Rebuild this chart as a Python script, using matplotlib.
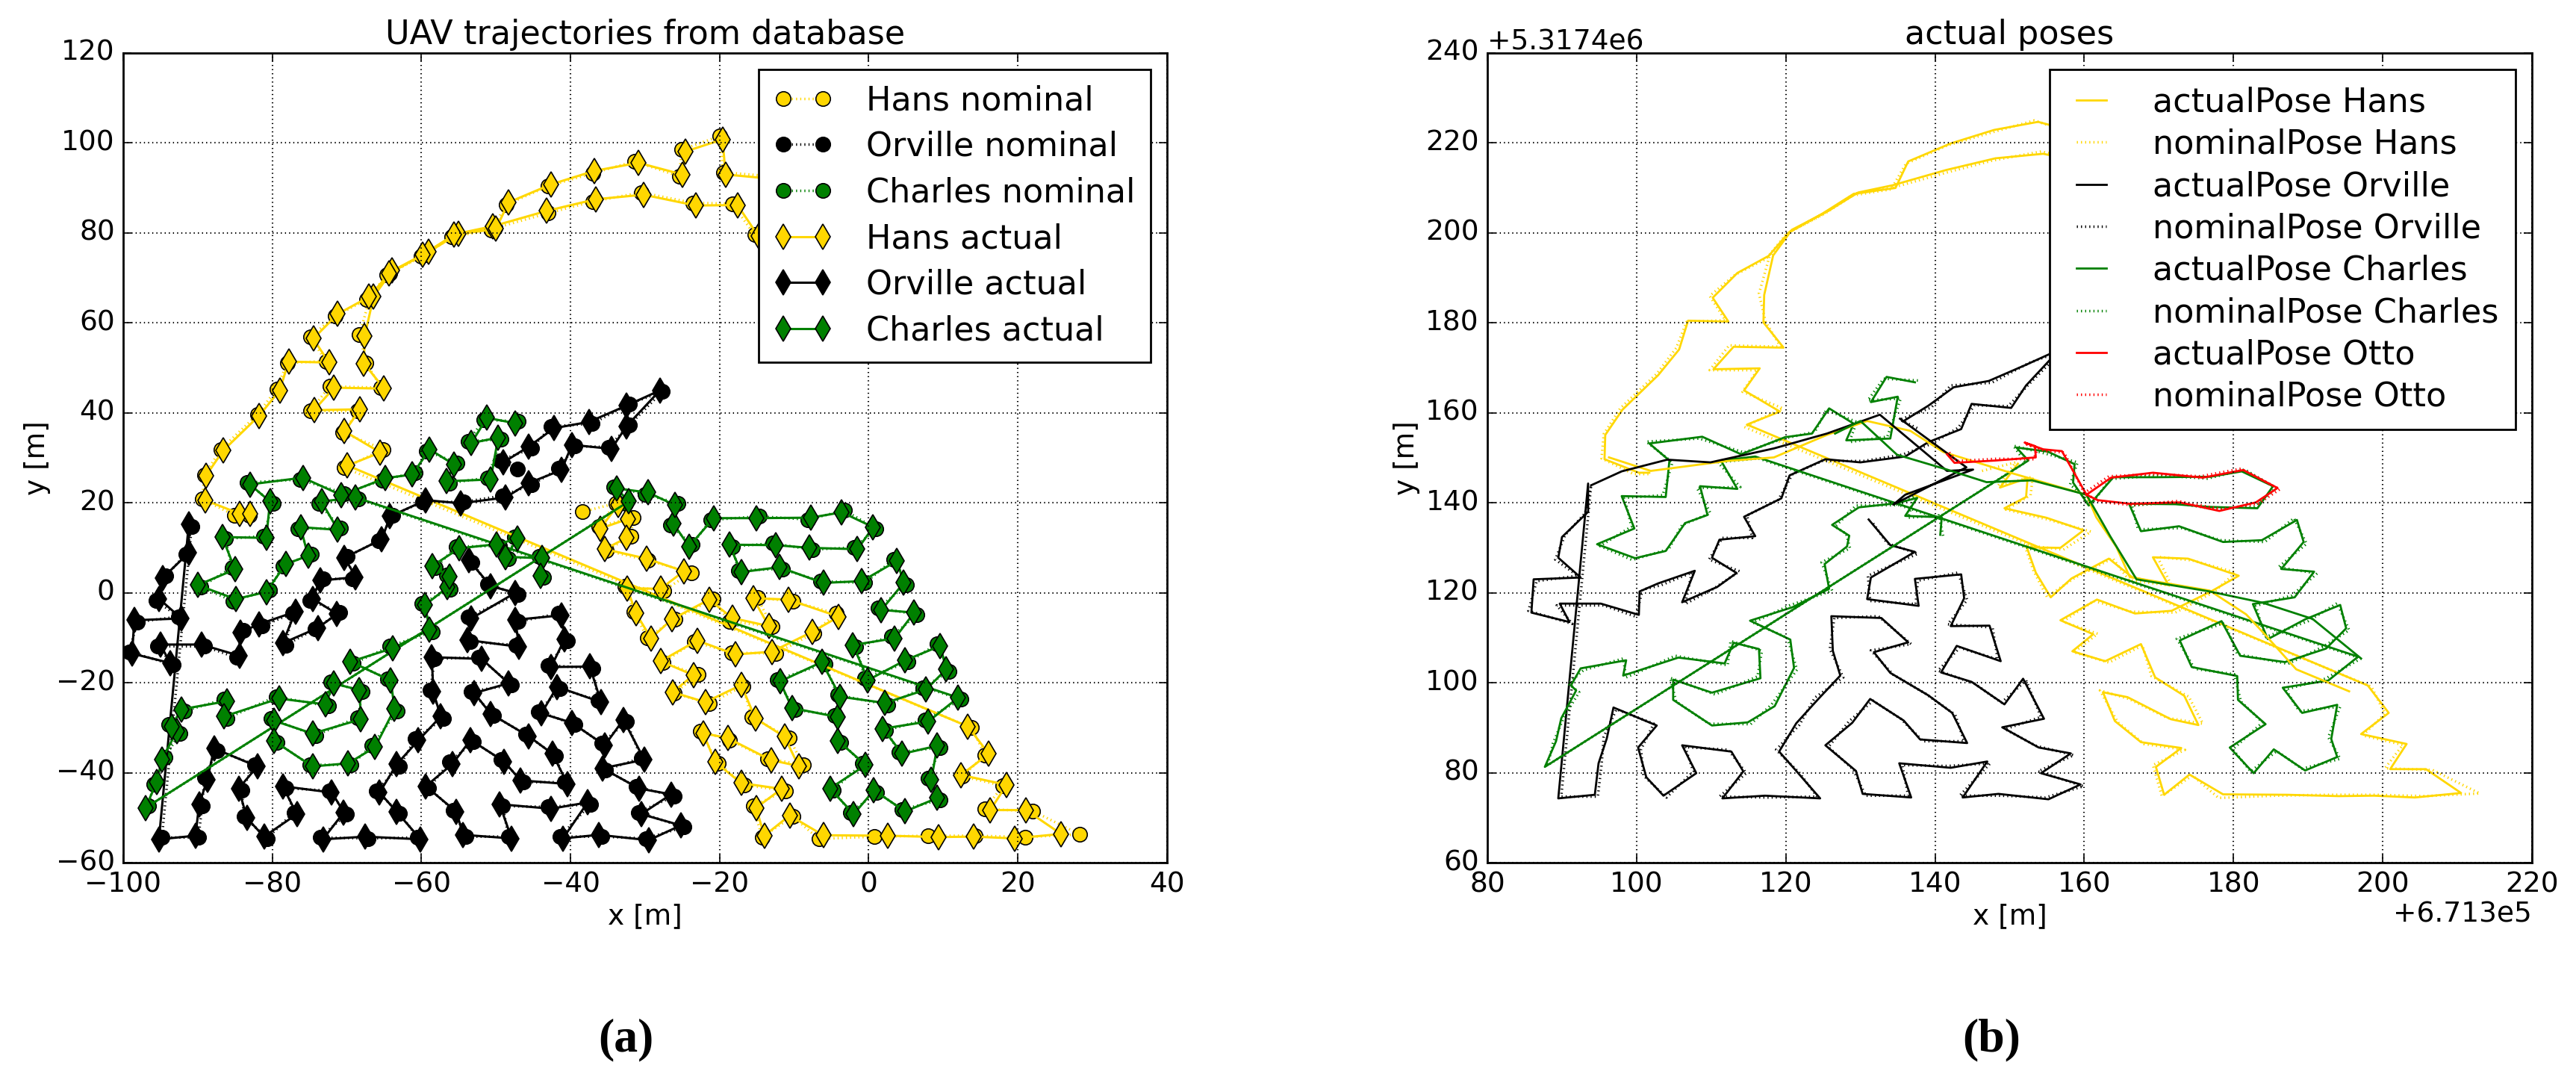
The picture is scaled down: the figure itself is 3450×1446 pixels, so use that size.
import numpy as np
import matplotlib
matplotlib.use("Agg")
import matplotlib.pyplot as plt
from matplotlib.ticker import ScalarFormatter

# ---- left panel: local coordinates [m] ----
hans_nominal = [
    (-38.4, 18.0), (-33.9, 19.9), (-36.2, 14.8), (-31.6, 16.7), (-31.9, 12.6), (-35.2, 9.4), (-29.6, 7.2),
    (-23.8, 4.5), (-27.5, 0.5), (-32.7, 1.5), (-31.5, -4.2), (-29.7, -10.0), (-26.0, -5.8), (-20.9, -1.4),
    (-18.7, -6.3), (-13.0, -7.5), (-14.9, -1.1), (-10.2, -1.9), (-4.4, -4.6), (-7.4, -9.0), (-12.5, -13.5),
    (-18.4, -13.3), (-23.4, -10.9), (-27.6, -15.5), (-22.9, -18.2), (-26.1, -22.3), (-21.4, -24.6),
    (-16.9, -20.8), (-15.7, -27.6), (-10.7, -32.2), (-8.8, -38.2), (-13.6, -36.9), (-18.7, -32.7),
    (-22.6, -30.8), (-20.2, -37.9), (-16.7, -42.7), (-11.2, -44.0), (-15.5, -47.4), (-14.3, -54.3),
    (-10.2, -49.7), (-6.7, -54.7), (0.8, -54.2), (8.0, -54.0), (14.3, -54.0), (21.0, -54.3), (28.3, -53.7),
    (22.0, -48.5), (15.6, -48.1), (18.0, -42.9), (12.6, -40.8), (15.6, -36.0), (13.8, -30.0),
    (-70.3, 27.8), (-65.1, 31.9), (-70.5, 35.6), (-68.5, 40.4), (-74.9, 40.4), (-72.3, 45.9), (-65.4, 45.6),
    (-67.4, 51.1), (-68.3, 57.4), (-66.9, 65.6), (-64.2, 71.1), (-59.5, 75.2), (-55.4, 79.6), (-50.1, 81.1),
    (-43.0, 84.4), (-37.0, 87.0), (-30.5, 89.0), (-23.6, 86.7), (-18.3, 86.5), (-15.3, 79.6), (-8.0, 76.0),
    (-9.0, 92.0), (-19.5, 93.5), (-20.0, 101.5), (-25.1, 98.5), (-25.4, 92.6), (-31.4, 95.9), (-37.0, 93.3),
    (-43.0, 90.4), (-48.6, 86.3), (-50.6, 80.6), (-55.9, 79.2), (-60.0, 74.8), (-64.6, 70.7), (-67.3, 65.2),
    (-71.5, 61.6), (-74.9, 56.9), (-72.8, 51.5), (-78.0, 51.1), (-79.4, 45.3), (-82.0, 39.6), (-86.9, 31.9),
    (-89.1, 26.2), (-89.4, 20.8), (-85.1, 17.3), (-83.1, 17.3),
]
hans_actual = [
    (-33.6, 19.6), (-36.0, 14.3), (-32.3, 16.4), (-32.5, 12.2), (-35.4, 9.7), (-29.8, 7.6),
    (-24.8, 4.8), (-27.9, 0.9), (-32.4, 1.0), (-31.2, -4.6), (-29.2, -10.1), (-26.4, -5.9), (-21.4, -1.5),
    (-18.3, -5.6), (-13.4, -7.4), (-15.5, -1.2), (-10.8, -1.5), (-4.0, -5.3), (-7.6, -8.7), (-13.0, -13.1),
    (-17.9, -13.7), (-23.0, -10.6), (-27.9, -15.2), (-23.5, -18.3), (-26.3, -22.1), (-21.9, -24.3),
    (-17.1, -20.5), (-15.2, -27.9), (-11.3, -32.0), (-9.4, -38.5), (-13.1, -37.2), (-18.9, -32.3),
    (-22.2, -31.2), (-20.6, -37.6), (-17.1, -42.3), (-11.7, -43.6), (-15.1, -47.8), (-14.0, -54.0),
    (-10.6, -49.5), (-6.1, -53.9), (2.6, -54.0), (9.4, -54.3), (14.1, -54.2), (19.6, -54.6), (25.8, -53.6),
    (21.1, -48.3), (16.3, -48.3), (18.5, -42.7), (12.4, -40.5), (16.1, -35.8), (13.3, -29.7),
    (-69.9, 28.3), (-65.5, 31.2), (-70.3, 35.9), (-68.2, 40.8), (-74.4, 40.6), (-71.7, 45.6), (-65.0, 45.4),
    (-67.7, 51.0), (-67.6, 57.1), (-66.4, 65.9), (-63.9, 71.6), (-59.0, 75.8), (-55.0, 79.9), (-50.4, 81.5),
    (-43.2, 84.9), (-36.6, 87.5), (-30.2, 88.5), (-23.2, 86.1), (-17.6, 86.2), (-14.8, 79.3), (-8.5, 76.0),
    (-9.5, 91.5), (-19.2, 93.0), (-19.6, 100.8), (-24.6, 98.1), (-25.0, 93.0), (-30.9, 95.6), (-36.8, 93.8),
    (-42.6, 90.8), (-48.3, 86.8), (-50.0, 80.9), (-55.6, 79.6), (-59.8, 75.2), (-64.3, 71.0), (-67.0, 65.8),
    (-71.2, 62.0), (-74.5, 56.5), (-72.4, 51.2), (-77.8, 51.4), (-79.0, 45.0), (-81.8, 39.3), (-86.6, 31.6),
    (-88.9, 26.0), (-89.0, 20.6), (-84.4, 17.6), (-83.0, 17.6),
]

orville_nominal = [
    (-47.1, 27.5), (-49.4, 29.4), (-45.2, 32.1), (-42.6, 37.0), (-37.1, 37.6), (-32.1, 42.0), (-27.7, 44.7),
    (-32.1, 37.3), (-34.9, 32.4), (-39.4, 32.6), (-41.6, 27.6), (-45.2, 24.0), (-49.1, 21.6), (-54.3, 20.2),
    (-59.8, 20.2), (-63.8, 17.3), (-65.7, 11.6), (-69.9, 8.1), (-69.2, 3.1), (-73.2, 3.1), (-75.0, -1.7),
    (-70.9, -4.3), (-74.3, -8.1), (-78.2, -11.6), (-77.3, -4.6), (-81.4, -7.4), (-83.9, -8.4), (-84.8, -14.4),
    (-89.1, -11.9), (-95.4, -11.9), (-93.3, -16.0), (-99.2, -13.1), (-98.1, -6.5), (-92.6, -5.3),
    (-95.6, -1.7), (-94.3, 3.7), (-91.6, 8.6), (-90.8, 14.8),
    (-94.8, -54.4), (-89.9, -54.4), (-89.4, -47.4), (-89.1, -41.1), (-87.4, -35.0), (-82.4, -38.2),
    (-84.1, -43.9), (-83.8, -49.7), (-80.7, -54.6), (-77.1, -48.8), (-78.2, -43.4), (-72.4, -44.0),
    (-70.0, -49.2), (-73.6, -54.4), (-67.1, -54.6), (-60.5, -54.4), (-62.9, -49.1), (-66.0, -44.0),
    (-62.9, -38.5), (-60.8, -32.4), (-57.0, -27.9), (-58.8, -21.6), (-58.2, -14.7), (-52.3, -14.3),
    (-47.9, -20.5), (-53.3, -21.9), (-50.3, -27.3), (-46.0, -31.5), (-42.0, -36.2), (-40.8, -42.1),
    (-46.3, -42.1), (-49.3, -37.1), (-53.0, -33.1), (-56.2, -37.6), (-59.0, -43.4), (-55.7, -48.3),
    (-54.0, -54.2), (-48.3, -54.2), (-49.1, -47.4), (-43.0, -47.6), (-37.3, -47.0), (-41.4, -54.2),
    (-35.8, -54.2), (-29.9, -54.6), (-24.8, -52.1), (-30.9, -48.8), (-26.1, -45.2), (-31.2, -43.1),
    (-35.3, -39.4), (-30.5, -36.7), (-32.5, -28.6), (-35.8, -33.5), (-39.4, -29.3), (-44.3, -26.4),
    (-41.4, -21.3), (-36.3, -23.9), (-37.0, -16.8), (-43.0, -16.1), (-40.4, -10.7), (-41.6, -4.6),
    (-47.0, -6.4), (-47.3, -11.6), (-53.4, -10.9), (-53.7, -5.3), (-47.0, -0.4), (-51.1, 1.9), (-53.2, 6.8),
]
orville_actual = [
    (-49.0, 29.0), (-45.6, 32.5), (-42.2, 36.6), (-37.5, 38.0), (-32.5, 41.6), (-28.0, 45.0),
    (-32.5, 37.0), (-34.5, 32.0), (-39.8, 32.9), (-41.2, 27.3), (-45.6, 24.4), (-48.7, 21.2), (-54.7, 19.9),
    (-59.4, 20.6), (-64.2, 17.0), (-65.3, 11.9), (-70.3, 7.8), (-68.8, 3.5), (-73.6, 2.7), (-74.6, -1.3),
    (-71.3, -4.7), (-73.9, -7.8), (-78.6, -11.2), (-76.9, -4.2), (-81.8, -7.0), (-84.3, -8.8), (-84.4, -14.0),
    (-89.5, -11.5), (-95.0, -11.5), (-93.7, -15.6), (-98.8, -13.5), (-98.5, -6.1), (-92.2, -5.7),
    (-95.2, -1.3), (-94.7, 3.3), (-91.2, 8.9), (-91.2, 15.2),
    (-95.2, -54.8), (-90.3, -54.0), (-89.8, -47.0), (-88.7, -41.5), (-87.8, -34.6), (-82.0, -38.6),
    (-84.5, -43.5), (-83.4, -50.1), (-81.1, -54.2), (-76.7, -49.2), (-78.6, -43.0), (-72.0, -44.4),
    (-70.4, -48.8), (-73.2, -54.8), (-67.5, -54.2), (-60.1, -54.8), (-63.3, -48.7), (-65.6, -44.4),
    (-63.3, -38.1), (-60.4, -32.8), (-57.4, -27.5), (-58.4, -22.0), (-58.6, -14.3), (-51.9, -14.7),
    (-48.3, -20.1), (-52.9, -22.3), (-50.7, -26.9), (-45.6, -31.9), (-42.4, -35.8), (-40.4, -42.5),
    (-46.7, -41.7), (-48.9, -37.5), (-53.4, -32.7), (-55.8, -38.0), (-59.4, -43.0), (-55.3, -48.7),
    (-54.4, -53.8), (-47.9, -54.6), (-49.5, -47.0), (-42.6, -48.0), (-37.7, -46.6), (-41.0, -54.6),
    (-36.2, -53.8), (-29.5, -55.0), (-25.2, -51.7), (-30.5, -49.2), (-26.5, -44.8), (-30.8, -43.5),
    (-35.7, -39.0), (-30.1, -37.1), (-32.9, -28.2), (-35.4, -33.9), (-39.8, -28.9), (-43.9, -26.8),
    (-41.8, -20.9), (-35.9, -24.3), (-37.4, -16.4), (-42.6, -16.5), (-40.8, -10.3), (-41.2, -5.0),
    (-47.4, -6.0), (-46.9, -12.0), (-53.8, -10.5), (-53.3, -5.7), (-47.4, 0.0), (-50.7, 1.5), (-53.6, 7.2),
]

charles_nominal = [
    (-47.0, 38.1), (-51.6, 38.5), (-53.7, 33.7), (-49.3, 34.1), (-51.1, 25.6), (-56.2, 24.4), (-55.2, 28.9),
    (-59.3, 31.5), (-60.8, 26.7), (-65.2, 25.1), (-70.3, 22.1), (-76.3, 25.2), (-83.4, 24.5), (-79.9, 19.9),
    (-81.2, 12.6), (-86.3, 12.0), (-85.4, 5.6), (-89.6, 1.3), (-85.3, -1.8), (-80.4, 0.6), (-78.6, 6.0),
    (-74.8, 8.6), (-76.6, 14.2), (-70.8, 14.4), (-73.8, 19.9), (-68.4, 20.8),
    (12.4, -23.7), (7.6, -28.2), (2.3, -30.6), (4.1, -35.4), (9.6, -34.4), (8.0, -41.2), (9.6, -46.0),
    (4.5, -48.2), (1.1, -44.3), (-2.4, -48.8), (-4.8, -43.9), (-0.8, -37.9), (-3.7, -33.3), (-4.6, -27.2),
    (-9.9, -26.0), (-12.3, -19.3), (-5.9, -15.8), (-4.2, -22.7), (2.6, -24.9), (7.3, -21.1), (10.8, -17.4),
    (9.2, -11.4), (5.3, -15.4), (-0.5, -19.0), (-1.7, -12.0), (3.1, -9.7), (6.5, -4.8), (1.3, -3.4),
    (5.1, 1.8), (3.4, 7.5), (-0.5, 2.2), (-6.5, 2.6), (-11.6, 5.3), (-17.5, 5.0), (-18.3, 10.3),
    (-12.9, 11.0), (-7.6, 9.6), (-1.9, 10.1), (1.0, 14.2), (-3.2, 18.3), (-8.2, 16.3), (-14.7, 17.0),
    (-21.2, 16.2), (-23.7, 10.7), (-26.6, 15.0), (-25.6, 19.9), (-30.0, 21.9), (-34.2, 23.6), (-32.6, 19.9),
    (-96.6, -47.4), (-95.9, -42.5), (-94.4, -36.6), (-92.4, -31.2), (-93.9, -29.3), (-91.8, -26.3),
    (-86.5, -23.7), (-86.1, -27.9), (-79.5, -23.1), (-72.5, -25.2), (-72.1, -19.8), (-67.9, -22.0),
    (-68.5, -27.7), (-74.2, -31.7), (-80.2, -28.0), (-79.4, -33.3), (-75.0, -38.2), (-69.4, -38.3),
    (-66.6, -33.9), (-63.2, -26.2), (-64.5, -19.1), (-69.1, -15.7), (-64.2, -11.9), (-58.5, -8.6),
    (-59.9, -2.3), (-56.1, 0.8), (-56.6, 4.0), (-58.1, 5.6), (-55.3, 10.3), (-49.5, 10.4), (-47.5, 12.4),
    (-48.3, 7.6), (-44.2, 8.1), (-43.6, 3.4),
]
charles_actual = [
    (-47.4, 37.7), (-51.2, 38.9), (-53.3, 33.3), (-49.7, 34.5), (-50.7, 25.2), (-56.6, 24.8), (-55.6, 28.5),
    (-58.9, 31.9), (-61.2, 26.3), (-64.8, 25.5), (-70.7, 21.7), (-75.9, 25.6), (-83.0, 24.1), (-80.3, 20.3),
    (-80.8, 12.2), (-86.7, 12.4), (-85.0, 5.2), (-90.0, 1.7), (-84.9, -1.4), (-80.8, 0.2), (-78.2, 6.4),
    (-75.2, 8.2), (-76.2, 14.6), (-71.2, 14.0), (-73.4, 20.3), (-68.8, 21.2),
    (12.0, -23.3), (8.0, -28.6), (1.9, -30.2), (4.5, -35.8), (9.2, -34.0), (8.4, -41.6), (9.2, -45.6),
    (4.9, -48.6), (0.7, -43.9), (-2.0, -49.2), (-5.2, -43.5), (-0.4, -38.3), (-4.1, -32.9), (-4.2, -27.6),
    (-10.3, -25.6), (-11.9, -19.7), (-6.3, -15.4), (-3.8, -23.1), (2.2, -24.5), (7.7, -21.5), (10.4, -17.0),
    (9.6, -11.8), (4.9, -15.0), (-0.1, -19.4), (-2.1, -11.6), (3.5, -10.1), (6.1, -4.4), (1.7, -3.8),
    (4.7, 2.2), (3.8, 7.1), (-0.9, 2.6), (-6.1, 2.2), (-12.0, 5.7), (-17.1, 4.6), (-18.7, 10.7),
    (-12.5, 10.6), (-8.0, 10.0), (-1.5, 9.7), (0.6, 14.6), (-3.6, 17.9), (-7.8, 16.7), (-15.1, 16.6),
    (-20.8, 16.6), (-24.1, 10.3), (-26.2, 15.4), (-26.0, 19.5), (-29.6, 22.3), (-33.8, 23.2), (-32.2, 20.3),
    (-97.0, -47.8), (-95.5, -42.1), (-94.8, -37.0), (-92.8, -30.8), (-93.5, -29.7), (-92.2, -25.9),
    (-86.1, -24.1), (-86.5, -27.5), (-79.1, -23.5), (-72.9, -24.8), (-71.7, -20.2), (-68.3, -21.6),
    (-68.1, -28.1), (-74.6, -31.3), (-79.8, -28.4), (-79.8, -32.9), (-74.6, -38.6), (-69.8, -37.9),
    (-66.2, -34.3), (-63.6, -25.8), (-64.1, -19.5), (-69.5, -15.3), (-63.8, -12.3), (-58.9, -8.2),
    (-59.5, -2.7), (-56.5, 1.2), (-56.2, 3.6), (-58.5, 6.0), (-54.9, 9.9), (-49.9, 10.8), (-47.1, 12.0),
    (-48.7, 8.0), (-43.8, 7.7), (-44.0, 3.8),
]

# ---- right panel: extra paths, axis units (offset +6.713e5 / +5.3174e6) ----
x_base = 671300.0
y_base = 5317400.0
local_origin = (184.7, 129.1)   # local frame origin in the right panel's axis units

hans_transit = [(96.3, 150.1), (101.9, 147.1), (112.1, 149.3), (118.4, 150.1), (125.5, 155.1),
                (130.9, 158.2), (136.7, 156.0), (141.1, 151.3), (150.5, 146.5), (160.3, 141.8),
                (161.6, 136.8), (164.3, 130.2), (166.1, 123.5), (176.8, 120.5), (181.7, 115.2),
                (183.9, 111.3), (188.4, 103.0), (195.5, 98.1)]
orville_transit = [(93.9, 143.9), (98.0, 147.0), (104.1, 149.6), (109.9, 149.0), (118.4, 152.1),
                   (125.5, 155.4), (132.6, 159.6), (141.6, 147.1), (145.1, 147.4), (136.0, 141.8),
                   (134.4, 139.6), (144.2, 147.9), (135.3, 158.7)]
charles_transit = [(126.6, 155.4), (130.0, 158.2), (134.9, 150.7), (141.6, 147.4), (146.9, 144.6),
                   (153.0, 145.0), (160.3, 141.8), (163.5, 132.5), (167.0, 123.0), (176.8, 120.3),
                   (183.9, 117.8), (190.6, 114.2), (197.1, 105.4)]
otto_actual = [(141.6, 150.8), (142.6, 148.9), (148.0, 149.4), (153.5, 150.1), (153.4, 152.6),
               (152.0, 153.4), (154.5, 151.9), (157.0, 151.5), (160.3, 141.8), (161.8, 140.6),
               (166.1, 139.8), (172.8, 140.1), (178.1, 138.2), (183.0, 140.1), (185.9, 143.3),
               (181.3, 147.3), (175.9, 145.6), (169.2, 146.7), (163.6, 145.6), (160.3, 141.8)]
otto_nominal = [(141.9, 151.2), (142.9, 149.3), (148.3, 149.8), (153.2, 149.7), (153.8, 152.2),
                (152.3, 153.0), (154.8, 151.5), (157.3, 151.2), (160.0, 142.2), (162.1, 140.2),
                (166.4, 139.5), (172.5, 140.4), (178.4, 138.6), (183.3, 139.8), (186.2, 143.0),
                (181.0, 147.6), (175.6, 145.9), (169.5, 146.4), (163.3, 145.9), (160.0, 142.2)]

GOLD = "#ffd700"
GREEN = "#008000"

plt.style.use("classic")
plt.rcParams["figure.facecolor"] = "white"
plt.rcParams["savefig.facecolor"] = "white"
plt.rcParams["xtick.labelsize"] = 27
plt.rcParams["ytick.labelsize"] = 27
plt.rcParams["axes.labelsize"] = 27
plt.rcParams["axes.titlesize"] = 32
plt.rcParams["legend.fontsize"] = 32

fig = plt.figure(figsize=(34.5, 14.46), dpi=100)
ax1 = fig.add_axes([0.0478, 0.2012, 0.4052, 0.7497])
ax2 = fig.add_axes([0.5774, 0.2012, 0.4055, 0.7497])


def xy(points):
    a = np.array(points)
    return a[:, 0], a[:, 1]


# (a) database trajectories
ms = 14
for pts, col, lab in [(hans_nominal, GOLD, "Hans nominal"),
                      (orville_nominal, "k", "Orville nominal"),
                      (charles_nominal, GREEN, "Charles nominal")]:
    x, y = xy(pts)
    ax1.plot(x, y, ":", color=col, lw=2.5, marker="o", ms=ms, mfc=col, mec="k", mew=1.2, label=lab)
for pts, col, lab in [(hans_actual, GOLD, "Hans actual"),
                      (orville_actual, "k", "Orville actual"),
                      (charles_actual, GREEN, "Charles actual")]:
    x, y = xy(pts)
    ax1.plot(x, y, "-", color=col, lw=2.2, marker="d", ms=ms + 3, mfc=col, mec="k", mew=1.2, label=lab)

ax1.set_xlim(-100, 40)
ax1.set_ylim(-60, 120)
ax1.set_xticks(np.arange(-100, 41, 20))
ax1.set_yticks(np.arange(-60, 121, 20))
ax1.grid(True, color="k", linestyle=":", linewidth=1.5)
ax1.set_xlabel("x [m]")
ax1.set_ylabel("y [m]")
ax1.set_title("UAV trajectories from database", y=1.005)
leg1 = ax1.legend(loc="upper right", numpoints=2, borderaxespad=0.5, labelspacing=0.42,
                  handlelength=1.8, handletextpad=1.0, borderpad=0.45)
leg1.get_frame().set_linewidth(2)

# (b) actual poses in UTM
ox, oy = local_origin
for act, nom, col, name in [(hans_actual, hans_nominal, GOLD, "Hans"),
                            (orville_actual, orville_nominal, "k", "Orville"),
                            (charles_actual, charles_nominal, GREEN, "Charles")]:
    xa, ya = xy(act)
    xn, yn = xy(nom)
    ax2.plot(xa + ox + x_base, ya + oy + y_base, "-", color=col, lw=2.0, label="actualPose " + name)
    ax2.plot(xn + ox + x_base, yn + oy + y_base, ":", color=col, lw=2.5, label="nominalPose " + name)
for tr, col in [(hans_transit, GOLD), (orville_transit, "k"), (charles_transit, GREEN)]:
    xt, yt = xy(tr)
    ax2.plot(xt + x_base, yt + y_base, "-", color=col, lw=2.0)
xa, ya = xy(otto_actual)
xn, yn = xy(otto_nominal)
ax2.plot(xa + x_base, ya + y_base, "-", color="red", lw=2.0, label="actualPose Otto")
ax2.plot(xn + x_base, yn + y_base, ":", color="red", lw=2.5, label="nominalPose Otto")

ax2.set_xlim(x_base + 80, x_base + 220)
ax2.set_ylim(y_base + 60, y_base + 240)
ax2.set_xticks(x_base + np.arange(80, 221, 20))
ax2.set_yticks(y_base + np.arange(60, 241, 20))
ax2.xaxis.set_major_formatter(ScalarFormatter(useOffset=x_base))
ax2.yaxis.set_major_formatter(ScalarFormatter(useOffset=y_base))
ax2.grid(True, color="k", linestyle=":", linewidth=1.5)
ax2.set_xlabel("x [m]")
ax2.set_ylabel("y [m]")
ax2.set_title("actual poses", y=1.005)
leg2 = ax2.legend(loc="upper right", borderaxespad=0.5, labelspacing=0.3,
                  handlelength=1.5, handletextpad=1.1, borderpad=0.5)
leg2.get_frame().set_linewidth(2)

for ax in (ax1, ax2):
    for sp in ax.spines.values():
        sp.set_linewidth(2)
    ax.tick_params(which="major", length=8, width=1.2, pad=8)

fig.text(0.243, 0.037, "(a)", ha="center", va="center", fontsize=46,
         fontweight="bold", family="Liberation Serif")
fig.text(0.773, 0.037, "(b)", ha="center", va="center", fontsize=46,
         fontweight="bold", family="Liberation Serif")

fig.savefig("out.png", dpi=100)
